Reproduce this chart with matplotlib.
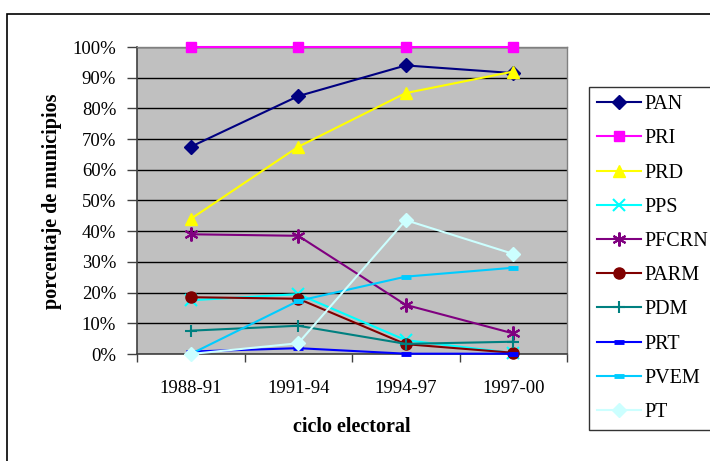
import matplotlib
matplotlib.use("Agg")
import matplotlib.pyplot as plt
from matplotlib.patches import Rectangle
from matplotlib.ticker import FuncFormatter, MultipleLocator

plt.rcParams['font.family'] = ['Liberation Serif', 'DejaVu Serif']

cycles = ["1988-91", "1991-94", "1994-97", "1997-00"]
PAN = [67.5, 84, 94, 91.5]
PRI = [100, 100, 100, 100]
PRD = [44, 67.5, 85, 92]
PPS = [17.5, 19.5, 4.5, 0.3]
PFCRN = [39, 38.5, 16, 6.7]
PARM = [18.5, 18, 3.2, 0.4]
PDM = [7.6, 9.2, 3.3, 4]
PRT = [0.8, 1.9, 0.1, 0.1]
PVEM = [0, 17.3, 25.2, 28.1]
PT = [0, 3.5, 43.6, 32.6]

series = [
    ("PAN", PAN, "#000080", "D", 7),
    ("PRI", PRI, "#FF00FF", "s", 7),
    ("PRD", PRD, "#FFFF00", "^", 9),
    ("PPS", PPS, "#00FFFF", "x", 8),
    ("PFCRN", PFCRN, "#800080", (6, 2, 0), 10),
    ("PARM", PARM, "#800000", "o", 8),
    ("PDM", PDM, "#008080", "+", 9),
    ("PRT", PRT, "#0000FF", "_", 7),
    ("PVEM", PVEM, "#00CCFF", "_", 7),
    ("PT", PT, "#CCFFFF", "D", 7),
]

fig = plt.figure(figsize=(7.10, 4.61), dpi=100)
W, H = 710, 461
ax = fig.add_axes([137 / W, 1 - 354 / H, (567 - 137) / W, (354 - 47) / H])
ax.set_facecolor("#C0C0C0")

xs = [i + 0.5 for i in range(len(cycles))]
for name, vals, col, mk, ms in series:
    kw = {}
    if mk in ("_",):
        kw["markeredgewidth"] = 3.5
    elif mk in ("x", "+") or isinstance(mk, tuple):
        kw["markeredgewidth"] = 1.5
    ax.plot(xs, vals, color=col, marker=mk, markersize=ms, linewidth=1.5,
            markerfacecolor=col, markeredgecolor=col, label=name, clip_on=False,
            zorder=3, **kw)

ax.set_xlim(0, 4)
ax.set_ylim(0, 100)
ax.yaxis.set_major_locator(MultipleLocator(10))
ax.yaxis.set_major_formatter(FuncFormatter(lambda v, p: f"{int(round(v))}%"))
ax.set_xticks([0, 1, 2, 3, 4])
ax.set_xticklabels([])
ax.set_xticks(xs, minor=True)
ax.set_xticklabels(cycles, minor=True)
ax.tick_params(axis="x", which="minor", length=0, pad=18.5, labelsize=13.5)
ax.tick_params(axis="x", which="major", direction="out", length=6, width=1, color="#404040")
ax.tick_params(axis="y", direction="out", length=7, width=1, color="#404040", labelsize=13.5, pad=8)
ax.grid(axis="y", color="black", linewidth=1)
ax.set_axisbelow(True)
for s in ["top", "right"]:
    ax.spines[s].set_color("#808080")
    ax.spines[s].set_linewidth(1)
for s in ["left", "bottom"]:
    ax.spines[s].set_color("#404040")
    ax.spines[s].set_linewidth(1.2)

fig.text(52 / W, 1 - 201 / H, "porcentaje de municipios", rotation=90, ha="center",
         va="center", fontsize=14.5, fontweight="bold")
fig.text(352 / W, 1 - 427 / H, "ciclo electoral", ha="center", va="center",
         fontsize=14.5, fontweight="bold")

leg = fig.legend(loc="upper left", bbox_to_anchor=(589 / W, 1 - 87 / H),
                 frameon=True, fancybox=False, edgecolor="black", fontsize=14.5,
                 labelspacing=0.75, handlelength=2.2, handletextpad=0.15,
                 borderpad=0.4, borderaxespad=0)
leg.get_frame().set_linewidth(1)

fig.patches.append(Rectangle((6.5 / W, -0.05), 1.1, 1 - 13.5 / H + 0.05,
                             transform=fig.transFigure, fill=False,
                             edgecolor="black", linewidth=1.2))

fig.savefig("out.png", dpi=100)
